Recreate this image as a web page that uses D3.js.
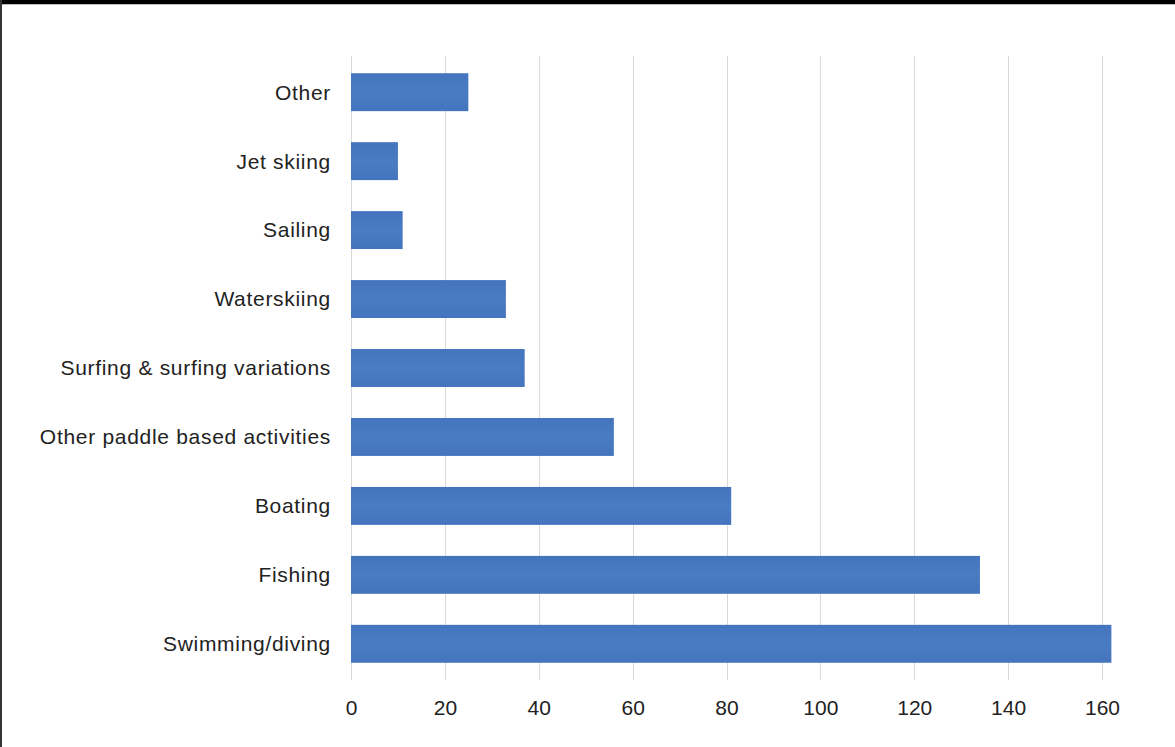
<!DOCTYPE html>
<html><head><meta charset="utf-8">
<script src="https://cdn.jsdelivr.net/npm/d3@7"></script>
<style>
html,body{margin:0;padding:0;background:#fff;}
svg{display:block;}
</style></head>
<body>
<svg id="c" width="1175" height="747"></svg>
<script>
const categories = ["Other","Jet skiing","Sailing","Waterskiing","Surfing & surfing variations","Other paddle based activities","Boating","Fishing","Swimming/diving"];
const values = [25,10,11,33,37,56,81,134,162];
const tickValues = [0,20,40,60,80,100,120,140,160];

const svg = d3.select("#c");
const W = 1175, H = 747;
const x = d3.scaleLinear().domain([0,160]).range([351,1102]);
const y = d3.scaleBand().domain(categories).range([56,680]).paddingInner(0.45).paddingOuter(0.25);

// frame
svg.append("rect").attr("x",0).attr("y",0).attr("width",W).attr("height",H).attr("fill","#fff");
svg.append("rect").attr("x",0).attr("y",0).attr("width",W).attr("height",4).attr("fill","#000");
svg.append("line").attr("x1",0).attr("x2",W).attr("y1",4.5).attr("y2",4.5).attr("stroke","#bbb").attr("stroke-width",1);
svg.append("rect").attr("x",0).attr("y",0).attr("width",2).attr("height",H).attr("fill","#333");

// gridlines
svg.append("g").selectAll("line").data(tickValues).join("line")
  .attr("x1",d=>Math.round(x(d))+0.5).attr("x2",d=>Math.round(x(d))+0.5)
  .attr("y1",56).attr("y2",680)
  .attr("stroke","#d9d9d9").attr("stroke-width",1);

// bars
const grad = svg.append("defs").append("linearGradient").attr("id","bg").attr("x1",0).attr("x2",0).attr("y1",0).attr("y2",1);
grad.append("stop").attr("offset","0%").attr("stop-color","#4374bd");
grad.append("stop").attr("offset","50%").attr("stop-color","#4a7cc3");
grad.append("stop").attr("offset","100%").attr("stop-color","#4374bd");

svg.append("g").selectAll("rect").data(values).join("rect")
  .attr("x",x(0)).attr("y",(d,i)=>y(categories[i]))
  .attr("width",d=>x(d)-x(0)).attr("height",y.bandwidth())
  .attr("fill","url(#bg)");

// category axis labels
const yAxis = d3.axisLeft(y).tickSize(0).tickPadding(20);
const ga = svg.append("g").attr("transform",`translate(${x(0)},0)`).call(yAxis);
ga.select(".domain").remove();
ga.selectAll("text").attr("font-family","'Liberation Sans', Arial, sans-serif")
  .attr("font-size",21).attr("fill","#222").attr("letter-spacing","0.7px").attr("dy","0.35em");

// value axis
const xAxis = d3.axisBottom(x).tickValues(tickValues).tickSize(0).tickPadding(0).tickFormat(d3.format("d"));
const gx = svg.append("g").attr("transform",`translate(0,${700})`).call(xAxis);
gx.select(".domain").remove();
gx.selectAll("text").attr("font-family","'Liberation Sans', Arial, sans-serif")
  .attr("font-size",21).attr("fill","#222").attr("dy","0").attr("y",0).attr("dominant-baseline","hanging");
</script>
</body></html>
